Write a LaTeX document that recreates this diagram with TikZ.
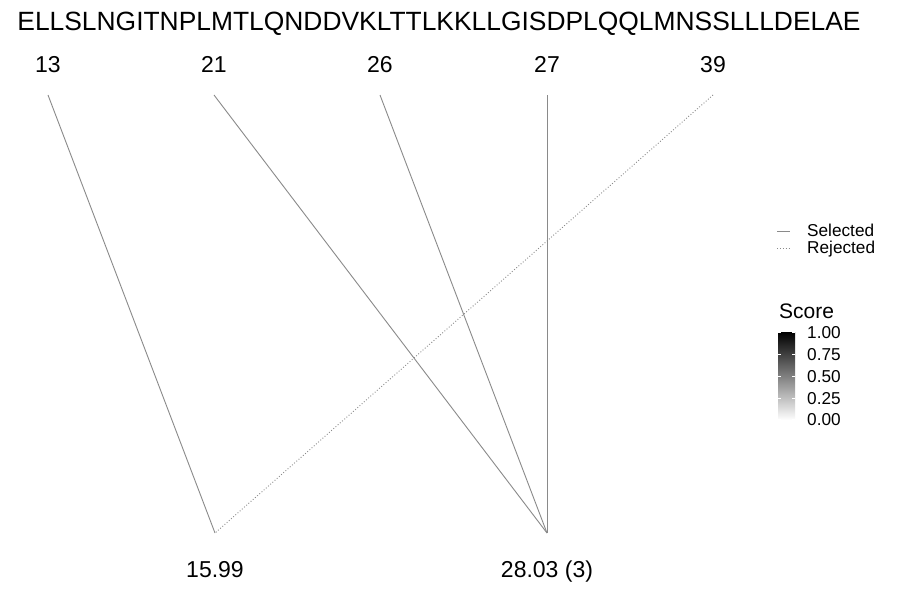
\documentclass[tikz,border=0pt]{standalone}
\usepackage{fontspec}
\setmainfont{Liberation Sans}
\usepackage{tikz}
\usetikzlibrary{positioning}
\definecolor{Edge}{HTML}{8A8A8A}
\tikzset{
  edge/.style={draw=Edge,line width=0.9pt},
  rejected/.style={edge,dotted},
  lbl/.style={font=\fontsize{23}{27}\selectfont,inner sep=0pt,anchor=base},
  small/.style={font=\fontsize{17.2}{20}\selectfont,inner sep=0pt,anchor=base west,
    text height=12pt,text depth=2pt}
}
\begin{document}
\begin{tikzpicture}[x=1pt,y=-1pt]
      \useasboundingbox[fill=white] (0,0) rectangle (900,600);
      \node[font=\fontsize{26.4}{31}\selectfont,inner sep=0pt,anchor=base] (seq) at (439,30) {ELLSLNGITNPLMTLQNDDVKLTTLKKLLGISDPLQQLMNSSLLLDELAE};
      % sites
      \node[lbl] (s13) at (48,72) {13};
      \node[lbl] (s21) at (214,72) {21};
      \node[lbl] (s26) at (380,72) {26};
      \node[lbl] (s27) at (547,72) {27};
      \node[lbl] (s39) at (713,72) {39};
      \foreach \s/\x in {13/48,21/214,26/380,27/547,39/713}
        \coordinate (t\s) at (\x,95);
      % masses
      \coordinate (m1) at (215,533);
      \coordinate (m2) at (547,533);
      \node[lbl] (l1) at (215,577) {15.99};
      \node[lbl] (l2) at (547,577) {28.03 (3)};
      \draw[edge] (t13) -- (m1);
      \draw[edge] (t21) -- (m2);
      \draw[edge] (t26) -- (m2);
      \draw[edge] (t27) -- (m2);
      \draw[rejected] (t39) -- (m1);
      % legend
      \coordinate (a1) at (777,231); \coordinate (b1) at (790,231);
      \coordinate (a2) at (777,248); \coordinate (b2) at (790,248);
      \draw[edge,line width=1pt] (a1) -- (b1);
      \draw[rejected,line width=1pt] (a2) -- (b2);
      \node[small] (sel) at (807,236.5) {Selected};
      \node[small] (rej) at (807,253.5) {Rejected};
      % colour bar
      \node[font=\fontsize{21}{25}\selectfont,inner sep=0pt,anchor=base west] (score) at (779,318.5) {Score};
      \shade[top color=black,bottom color=white] (778,332) rectangle (795,420);
      \foreach \v/\y in {1.00/332,0.75/354,0.50/376,0.25/398,0.00/419}{
        \draw[white,line width=0.6pt] (778,\y) -- (781,\y) (792,\y) -- (795,\y);
        \node[small] at (807,\y+6) {\v};
      }
\end{tikzpicture}
\end{document}
